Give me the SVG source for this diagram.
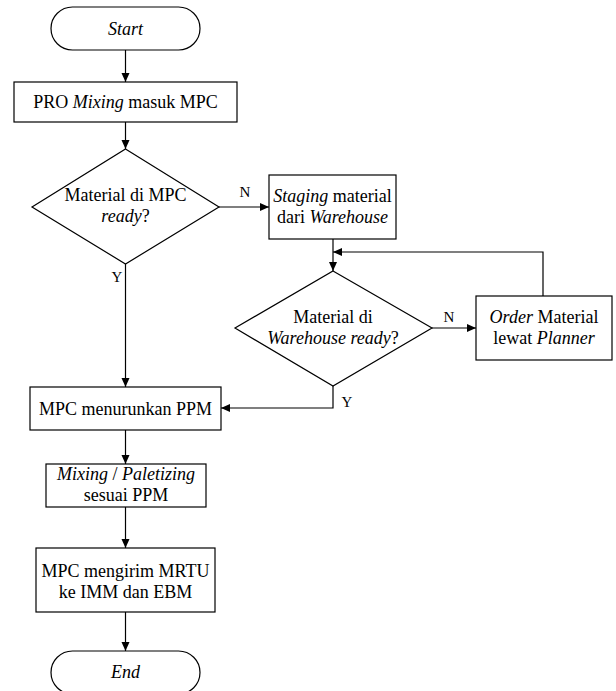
<svg xmlns="http://www.w3.org/2000/svg" width="616" height="691" viewBox="0 0 616 691">
<defs>
<marker id="ah" markerWidth="10" markerHeight="10" refX="9" refY="5" orient="auto" markerUnits="userSpaceOnUse">
<path d="M0,1 L9,5 L0,9 Z" fill="#000"/>
</marker>
<style>
.s{fill:#fff;stroke:#000;stroke-width:1.2}
.c{fill:none;stroke:#000;stroke-width:1.2;marker-end:url(#ah)}
text{font-family:"Liberation Serif","Times New Roman",serif;font-size:18px;fill:#000;text-anchor:middle}
.l{font-size:15px}
.i{font-style:italic}
</style>
</defs>
<rect width="616" height="691" fill="#fff"/>
<g id="connectors">
<path class="c" d="M125.5,50 V82"/>
<path class="c" d="M125.5,122 V149"/>
<path class="c" d="M219,207 H269"/>
<path class="c" d="M125.5,264 V387"/>
<path class="c" d="M333,239 V271"/>
<path class="c" d="M432,328 H476"/>
<path class="c" d="M543,296 V252 H333"/>
<path class="c" d="M333,386 V408 H221"/>
<path class="c" d="M125.5,430 V464"/>
<path class="c" d="M125.5,507 V548"/>
<path class="c" d="M125.5,612 V651"/>
<text class="l" x="245" y="197">N</text>
<text class="l" x="449" y="322">N</text>
<text class="l" x="117" y="282">Y</text>
<text class="l" x="347" y="407">Y</text>
</g>
<g id="start">
<rect class="s" x="51" y="7" width="149" height="43" rx="21.5"/>
<text class="i" x="125.5" y="35">Start</text>
</g>
<g id="pro">
<rect class="s" x="14" y="82" width="223" height="40"/>
<text x="125.5" y="108">PRO <tspan class="i">Mixing</tspan> masuk MPC</text>
</g>
<g id="dec1">
<polygon class="s" points="125.5,149 219,207 125.5,264 32,207"/>
<text x="125.5" y="201">Material di MPC</text>
<text x="125.5" y="222"><tspan class="i">ready</tspan>?</text>
</g>
<g id="staging">
<rect class="s" x="269" y="175" width="127" height="64"/>
<text x="332.5" y="201.5"><tspan class="i">Staging</tspan> material</text>
<text x="332.5" y="222.5">dari <tspan class="i">Warehouse</tspan></text>
</g>
<g id="dec2">
<polygon class="s" points="333,271 432,328 333,386 235,328"/>
<text x="333" y="323">Material di</text>
<text x="333" y="344"><tspan class="i">Warehouse ready</tspan>?</text>
</g>
<g id="order">
<rect class="s" x="476" y="296" width="136" height="64"/>
<text x="544" y="323"><tspan class="i">Order</tspan> Material</text>
<text x="544" y="344">lewat <tspan class="i">Planner</tspan></text>
</g>
<g id="ppm">
<rect class="s" x="30" y="387" width="191" height="43"/>
<text x="125.5" y="414.5">MPC menurunkan PPM</text>
</g>
<g id="mixing">
<rect class="s" x="46" y="464" width="160" height="43"/>
<text x="126" y="480"><tspan class="i">Mixing</tspan> / <tspan class="i">Paletizing</tspan></text>
<text x="126" y="501">sesuai PPM</text>
</g>
<g id="mrtu">
<rect class="s" x="36" y="548" width="179" height="64"/>
<text x="125.5" y="577">MPC mengirim MRTU</text>
<text x="125.5" y="598">ke IMM dan EBM</text>
</g>
<g id="end">
<rect class="s" x="51" y="651" width="149" height="43" rx="21.5"/>
<text class="i" x="125.5" y="678">End</text>
</g>
</svg>
